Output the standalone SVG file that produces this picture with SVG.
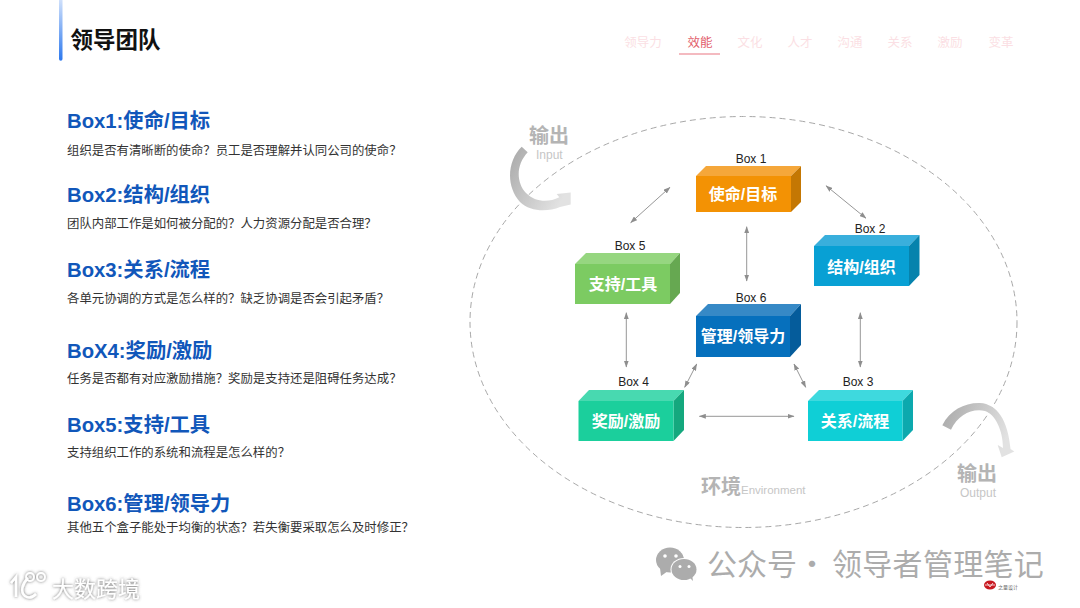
<svg xmlns="http://www.w3.org/2000/svg" width="1080" height="608" viewBox="0 0 1080 608">
<style>
text{font-family:"Liberation Sans","Noto Sans CJK SC",sans-serif}
.h{font-size:20.3px;font-weight:700;fill:#1157ba}
.b{font-size:12.4px;fill:#333}
.nav{font-size:12.5px;fill:#fbdfe4;text-anchor:middle}
.lab{font-size:12px;fill:#222;text-anchor:middle}
.bt{font-size:16px;font-weight:700;fill:#fff;text-anchor:middle}
.gb{font-size:20px;font-weight:700;fill:#b4b4b4}
.gs{font-size:12px;fill:#c6c6c6}
.c{stroke:#979797;stroke-width:1;fill:none;marker-start:url(#a);marker-end:url(#a)}
.wm{font-size:30px;fill:#acacac;font-family:"Noto Sans CJK SC",sans-serif}
</style>
<defs>
<marker id="a" viewBox="0 0 7 5" refX="6.500" refY="2.500" markerWidth="7" markerHeight="5" markerUnits="userSpaceOnUse" orient="auto-start-reverse"><path d="M0 0L7 2.500L0 5z" fill="#8e8e8e"/></marker>
<linearGradient id="bar" x1="0" y1="0" x2="0" y2="1"><stop offset="0" stop-color="#cfe0fb"/><stop offset="1" stop-color="#2c78ee"/></linearGradient>
<linearGradient id="gi" x1="0" y1="0" x2="1" y2="0.6"><stop offset="0" stop-color="#a8a8a8"/><stop offset="1" stop-color="#e2e2e2"/></linearGradient>
<linearGradient id="go" x1="0" y1="0" x2="1" y2="0.3"><stop offset="0" stop-color="#a8a8a8"/><stop offset="1" stop-color="#e2e2e2"/></linearGradient>
<filter id="sh" x="-10%" y="-20%" width="120%" height="140%"><feDropShadow dx="0" dy="0" stdDeviation="1.500" flood-color="#555" flood-opacity=".9"/></filter>
</defs>
<rect width="1080" height="608" fill="#fff"/>
<g id="header">
<path d="M59 0H62.500V59a1.750 1.750 0 0 1-3.500 0z" fill="url(#bar)"/>
<text x="70.500" y="48" font-size="22.500" font-weight="700" fill="#111">领导团队</text>
<text class="nav" x="643" y="47">领导力</text>
<text class="nav" x="700" y="47" style="fill:#e2606c">效能</text>
<text class="nav" x="750" y="47">文化</text>
<text class="nav" x="800" y="47">人才</text>
<text class="nav" x="850" y="47">沟通</text>
<text class="nav" x="900" y="47">关系</text>
<text class="nav" x="950" y="47">激励</text>
<text class="nav" x="1001" y="47">变革</text>
<rect x="679" y="53.500" width="41" height="1" fill="#ea7782"/>
</g>
<g id="list">
<text class="h" x="67" y="128">Box1:使命/目标</text>
<text class="b" x="67" y="154.500">组织是否有清晰断的使命&#xFF1F;员工是否理解并认同公司的使命&#xFF1F;</text>
<text class="h" x="67" y="202">Box2:结构/组织</text>
<text class="b" x="67" y="227.500">团队内部工作是如何被分配的&#xFF1F;人力资源分配是否合理&#xFF1F;</text>
<text class="h" x="67" y="277">Box3:关系/流程</text>
<text class="b" x="67" y="302.500">各单元协调的方式是怎么样的&#xFF1F;缺乏协调是否会引起矛盾&#xFF1F;</text>
<text class="h" x="67" y="358">BoX4:奖励/激励</text>
<text class="b" x="67" y="383">任务是否都有对应激励措施&#xFF1F;奖励是支持还是阻碍任务达成&#xFF1F;</text>
<text class="h" x="67" y="432">Box5:支持/工具</text>
<text class="b" x="67" y="456.500">支持组织工作的系统和流程是怎么样的&#xFF1F;</text>
<text class="h" x="67" y="510.500">Box6:管理/领导力</text>
<text class="b" x="67" y="531.500">其他五个盒子能处于均衡的状态&#xFF1F;若失衡要采取怎么及时修正&#xFF1F;</text>
</g>
<ellipse id="environment" cx="743.500" cy="322" rx="273.500" ry="205.500" fill="none" stroke="#a8a8a8" stroke-width="1" stroke-dasharray="6 4"/>
<g id="input">
<path d="M521.700 146.700C508 160 505 185 520 202C530 212 548 212 560 207L570.700 204.500V192.500L556.700 194L559.300 197.300C548 203 535 202 526 193C516 182 516 165 527.700 152.300z" fill="url(#gi)"/>
<text class="gb" x="529" y="143">输出</text>
<text class="gs" x="536" y="159">Input</text>
</g>
<g id="output">
<path d="M942.300 425.300C950 410 965 402.500 980 403C997 404 1008 420 1010.500 449L1014.300 451.500L1001.700 457.300L997.700 445L1003 448C1003 430 995 414 985 411C972 408 958 415 951 429.700z" fill="url(#go)"/>
<text class="gb" x="957" y="481">输出</text>
<text class="gs" x="960" y="497">Output</text>
</g>
<g id="env-label">
<text class="gb" x="701" y="494">环境</text>
<text class="gs" x="741" y="494" style="font-size:11.500px">Environment</text>
</g>
<g id="connectors">
<path class="c" d="M670 187.300L630.700 222.700"/>
<path class="c" d="M746.700 226.700V281"/>
<path class="c" d="M826 185.700L866 218.300"/>
<path class="c" d="M626.300 312.700V367"/>
<path class="c" d="M860.300 312.700V367"/>
<path class="c" d="M696.700 364L684.700 387.300"/>
<path class="c" d="M794 364L805.700 387.300"/>
<path class="c" d="M699.300 416.300H794"/>
</g>
<g id="box1">
<path d="M696 176L706 166H801L791 176z" fill="#f5a73a"/><path d="M791 176L801 166V202L791 212z" fill="#c47703"/><rect x="696" y="176" width="95" height="36" fill="#f39204"/>
<text class="lab" x="751" y="163">Box 1</text><text class="bt" x="743" y="200">使命/目标</text>
</g>
<g id="box2">
<path d="M814 246L825 235H919.500L909 246z" fill="#39afdc"/><path d="M909 246L919.500 235V275L909 286z" fill="#0683ad"/><rect x="814" y="246" width="95" height="40" fill="#08a0d4"/>
<text class="lab" x="870" y="233">Box 2</text><text class="bt" x="861.500" y="273">结构/组织</text>
</g>
<g id="box3">
<path d="M808 401L819 390H913L902.500 401z" fill="#3ed9de"/><path d="M902.500 401L913 390V430L902.500 441z" fill="#0ca9ae"/><rect x="808" y="401" width="94.500" height="40" fill="#0fcfd6"/>
<text class="lab" x="858" y="386">Box 3</text><text class="bt" x="855" y="427">关系/流程</text>
</g>
<g id="box4">
<path d="M578.500 401L589 390H684L673.500 401z" fill="#48d9b0"/><path d="M673.500 401L684 390V430L673.500 441z" fill="#15a87e"/><rect x="578.500" y="401" width="95" height="40" fill="#1bcf9c"/>
<text class="lab" x="633.500" y="386">Box 4</text><text class="bt" x="626" y="427">奖励/激励</text>
</g>
<g id="box5">
<path d="M575 264L586 253H680L670 264z" fill="#96d680"/><path d="M670 264L680 253V293L670 304z" fill="#66a851"/><rect x="575" y="264" width="95" height="40" fill="#7ccb62"/>
<text class="lab" x="630" y="250">Box 5</text><text class="bt" x="623" y="290">支持/工具</text>
</g>
<g id="box6">
<path d="M696 316L708 304H801L790 316z" fill="#3689c6"/><path d="M790 316L801 304V345L790 357z" fill="#055c9b"/><rect x="696" y="316" width="94" height="41" fill="#0670bd"/>
<text class="lab" x="751" y="302">Box 6</text><text class="bt" x="743" y="342">管理/领导力</text>
</g>
<g id="watermark-left" filter="url(#sh)" fill="#fff">
<path d="M11 583L16 577V597M28 578C22 584 20 592 25 596C29 599 33 597 36 594" fill="none" stroke="#fff" stroke-width="2.500"/>
<circle cx="30" cy="577" r="4" fill="none" stroke="#fff" stroke-width="1.800"/><circle cx="41" cy="577" r="4" fill="none" stroke="#fff" stroke-width="1.800"/>
<text x="52" y="597" font-size="22">大数跨境</text>
</g>
<g id="watermark-right">
<ellipse cx="670" cy="560" rx="14" ry="12.500" fill="#acacac"/><path d="M660 568L661 576L668 571z" fill="#acacac"/>
<ellipse cx="684" cy="569.500" rx="13.500" ry="11.500" fill="#fff"/><ellipse cx="684" cy="569.500" rx="12.500" ry="10.500" fill="#acacac"/><path d="M689 577L693 581L692 574z" fill="#acacac"/>
<circle cx="665" cy="556" r="1.800" fill="#fff"/><circle cx="676" cy="556" r="1.800" fill="#fff"/><circle cx="680" cy="566.500" r="1.500" fill="#fff"/><circle cx="689" cy="566.500" r="1.500" fill="#fff"/>
<text class="wm" x="707" y="575">公众号</text>
<text class="wm" x="797" y="575">·</text>
<text class="wm" x="832" y="575" style="letter-spacing:.3px">领导者管理笔记</text>
<ellipse cx="990" cy="585" rx="6" ry="4.500" fill="#c8181f"/><path d="M985 585H995M987 583L990 587L993 583" stroke="#fff" stroke-width=".8" fill="none"/>
<text x="998" y="589" font-size="5" fill="#666">之量设计</text>
</g>
</svg>
